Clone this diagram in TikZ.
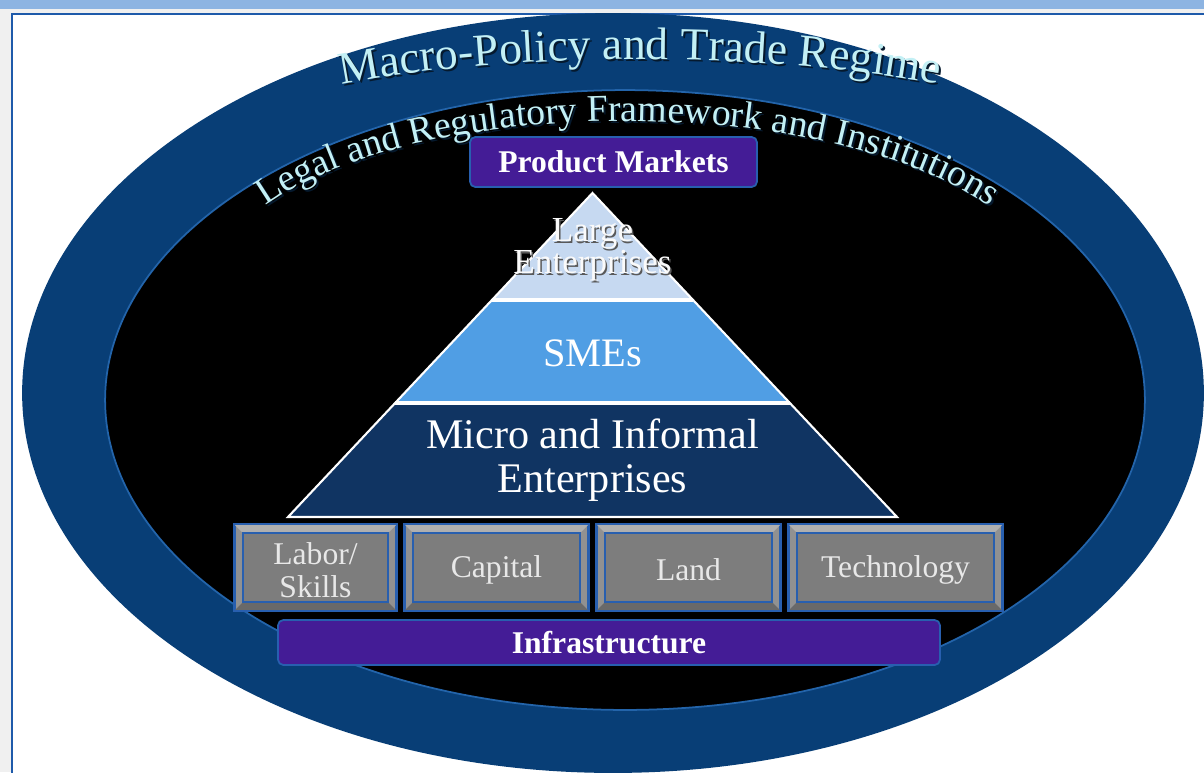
\documentclass[tikz,border=0pt]{standalone}
\usepackage{fontspec}
\setmainfont{Liberation Serif}
\usetikzlibrary{decorations.text}
\definecolor{bandblue}{RGB}{141,180,226}
\definecolor{pagegray}{RGB}{240,240,240}
\definecolor{framecol}{RGB}{30,90,170}
\definecolor{ringblue}{RGB}{8,62,118}
\definecolor{ringedge}{RGB}{35,100,170}
\definecolor{txtcyan}{RGB}{195,240,245}
\definecolor{txtshadow}{RGB}{5,25,45}
\definecolor{boxpurple}{RGB}{68,28,150}
\definecolor{boxedge}{RGB}{40,95,175}
\definecolor{pyrtop}{RGB}{198,217,241}
\definecolor{pyrmid}{RGB}{80,158,228}
\definecolor{pyrbot}{RGB}{16,52,98}
\definecolor{facegray}{RGB}{125,125,125}
\definecolor{bevlight}{RGB}{175,175,175}
\definecolor{bevdark}{RGB}{105,105,105}
\definecolor{bevside}{RGB}{145,145,145}
\definecolor{factext}{RGB}{232,232,232}
\newcommand\macrofont{\fontsize{26}{26}\selectfont}
\newcommand\legalfont{\fontsize{21.5}{22}\selectfont}
\tikzset{
  purplebox/.style={fill=boxpurple, draw=boxedge, line width=1pt, rounded corners=3pt,
    text=white, font=\fontsize{18}{18}\selectfont\bfseries, inner sep=0pt},
  factorbox/.style={fill=bevside, draw=boxedge, line width=1.2pt, minimum height=1.7cm,
    inner sep=0pt},
  factorlabel/.style={text=factext, font=\fontsize{18}{19}\selectfont, align=center, inner sep=0pt},
  pyrtext/.style={text=white, align=center, inner sep=0pt},
}
\newcommand\bevelbox[1]{%
  \fill[bevlight] (#1.north west) -- (#1.north east) -- ([shift={(-9,9)}]#1.north east) -- ([shift={(9,9)}]#1.north west) -- cycle;
  \fill[bevdark] (#1.south west) -- (#1.south east) -- ([shift={(-9,-9)}]#1.south east) -- ([shift={(9,-9)}]#1.south west) -- cycle;
  \filldraw[fill=facegray, draw=boxedge, line width=1pt] ([shift={(9,9)}]#1.north west) rectangle ([shift={(-9,-9)}]#1.south east);
  \draw[boxedge, line width=1.2pt] (#1.north west) rectangle (#1.south east);
}
\begin{document}
\begin{tikzpicture}[x=0.02cm,y=-0.02cm]
\useasboundingbox (0,0) rectangle (1204,772);
\clip (0,0) rectangle (1204,772);
% page background
\fill[pagegray] (0,0) rectangle (1204,772);
\fill[bandblue] (0,0) rectangle (1204,9);
\filldraw[fill=white, draw=framecol, line width=1.5pt] (12,14) rectangle (1240,800);
% ellipses
\fill[ringblue] (613,393) ellipse [x radius=11.82cm, y radius=7.6cm];
\filldraw[fill=black, draw=ringedge, line width=1pt] (625,400) ellipse [x radius=10.4cm, y radius=6.2cm];
% curved titles
\path[decorate, decoration={text along path, text align=center,
  text={|\macrofont\color{txtshadow}|Macro-Policy and Trade Regime}}]
  (327,90) .. controls (502,52) and (782,52) .. (957,90);
\path[decorate, decoration={text along path, text align=center,
  text={|\macrofont\color{txtcyan}|Macro-Policy and Trade Regime}}]
  (325,88) .. controls (500,50) and (780,50) .. (955,88);
\path[decorate, decoration={text along path, text align=center,
  text={|\legalfont\color{txtshadow}|Legal and Regulatory Framework and Institutions}}]
  (242,229) .. controls (387,88) and (867,88) .. (1017,229);
\path[decorate, decoration={text along path, text align=center,
  text={|\legalfont\color{txtcyan}|Legal and Regulatory Framework and Institutions}}]
  (240,227) .. controls (385,86) and (865,86) .. (1015,227);
% product markets
\node[purplebox, minimum width=5.74cm, minimum height=1cm] (pm) at (613.5,162) {Product Markets};
% pyramid
\coordinate (apex) at (592.5,193);
\coordinate (bl) at (288,517);
\coordinate (br) at (897,517);
\coordinate (t1l) at (491.9,300);
\coordinate (t1r) at (693.1,300);
\coordinate (t2l) at (395.1,403);
\coordinate (t2r) at (789.9,403);
\fill[pyrtop] (apex) -- (t1r) -- (t1l) -- cycle;
\fill[pyrmid] (t1l) -- (t1r) -- (t2r) -- (t2l) -- cycle;
\fill[pyrbot] (t2l) -- (t2r) -- (br) -- (bl) -- cycle;
\draw[white, line width=1.8pt] (t1l) -- (t1r);
\draw[white, line width=1.8pt] (t2l) -- (t2r);
\draw[white, line width=1.2pt, line join=miter] (apex) -- (br) -- (bl) -- cycle;
\node[pyrtext, text=gray!70!black, font=\fontsize{20}{18}\selectfont] (largesh) at (594,252) {Large\\Enterprises};
\node[pyrtext, text=white!96!gray, font=\fontsize{20}{18}\selectfont] (large) at (592.5,250) {Large\\Enterprises};
\node[pyrtext, font=\fontsize{23}{23}\selectfont] (smes) at (592.5,353) {SMEs};
\node[pyrtext, font=\fontsize{24}{25}\selectfont] (micro) at (592.5,460) {Micro and Informal\\Enterprises};
% factor boxes
\node[factorbox, minimum width=3.22cm] (labor) at (315.5,567.5) {};
\bevelbox{labor}
\node[factorlabel] (laborlbl) at (315.5,570) {Labor/\\Skills};
\node[factorbox, minimum width=3.66cm] (capital) at (496.5,567.5) {};
\bevelbox{capital}
\node[factorlabel] (capitallbl) at (496.5,570) {Capital};
\node[factorbox, minimum width=3.66cm] (land) at (688.5,567.5) {};
\bevelbox{land}
\node[factorlabel] (landlbl) at (688.5,570) {Land};
\node[factorbox, minimum width=4.26cm] (tech) at (895.5,567.5) {};
\bevelbox{tech}
\node[factorlabel] (techlbl) at (895.5,570) {Technology};
% infrastructure
\node[purplebox, minimum width=13.24cm, minimum height=0.9cm] (infra) at (609,642.5) {Infrastructure};
\end{tikzpicture}
\end{document}
